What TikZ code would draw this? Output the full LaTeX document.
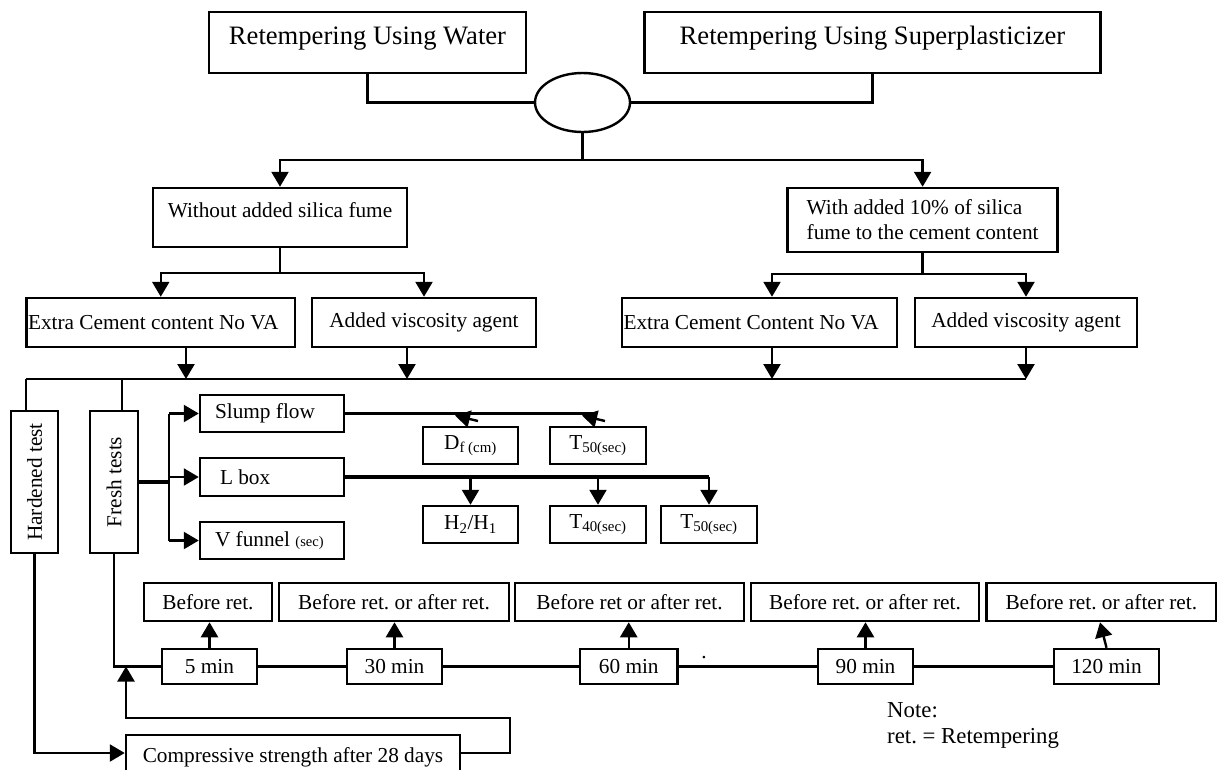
\documentclass[tikz,border=0pt]{standalone}
\usepackage{fontspec}
\setmainfont{Liberation Serif}
\usetikzlibrary{arrows.meta,shapes.geometric}
\newcommand{\fbig}{\fontsize{26.6pt}{30pt}\selectfont}
\newcommand{\fmain}{\fontsize{21.3pt}{25pt}\selectfont}
\newcommand{\fnote}{\fontsize{22.8pt}{26pt}\selectfont}
\newcommand{\fsmall}{\fontsize{14.5pt}{16pt}\selectfont}
\frenchspacing
\tikzset{
  box/.style={draw, line width=2.5pt, inner sep=0pt, font=\fmain, align=center},
  conn/.style={line width=2.4pt},
  thickconn/.style={line width=3.4pt},
  arr/.style={line width=2.4pt, -{Triangle[length=15pt,width=17pt]}},
  bigbox/.style={box, font=\fbig, text height=18pt, text depth=14pt},
}
\begin{document}
\begin{tikzpicture}[x=1pt,y=-1pt]
\useasboundingbox (0,0) rectangle (1223,769);
% top
\node[bigbox, minimum width=317pt, minimum height=61pt] (water) at (367.5,42.5) {Retempering Using Water};
\node[bigbox, minimum width=456pt, minimum height=61pt] (sp) at (872.5,42.5) {Retempering Using Superplasticizer};
\node[draw, ellipse, line width=2.4pt, minimum width=95pt, minimum height=59pt, inner sep=0pt] (ell) at (582.5,102.5) {};
\draw[conn] (water.south) |- (ell.west);
\draw[conn] (sp.south) |- (ell.east);
% second level
\node[box, minimum width=254pt, minimum height=59pt] (without) at (280,217.5) {Without added silica fume\\[-10pt]\mbox{}};
\node[box, minimum width=270pt, minimum height=64pt, align=left] (with) at (922.6,220) {With added 10\% of silica\\fume to the cement content};
\coordinate (j1) at (582.5,160);
\draw[conn] (ell.south) -- (j1);
\draw[arr] (j1) -| (without.north);
\draw[arr] (j1) -| (with.north);
% third level
\node[box, minimum height=49pt, inner xsep=1.5pt] (extra1) at (160.75,322.5) {\makebox[265.5pt][l]{Extra Cement content No VA}};
\node[box, minimum width=224pt, minimum height=49pt] (added1) at (424,322.5) {Added viscosity agent};
\node[box, minimum height=49pt, inner xsep=1.5pt] (extra2) at (759.5,322.5) {\makebox[272pt][l]{Extra Cement Content No VA}};
\node[box, minimum width=222pt, minimum height=49pt] (added2) at (1026,322.5) {Added viscosity agent};
\coordinate (j2) at (280,273);
\coordinate (j3) at (922.6,274);
\draw[conn] (without.south) -- (j2);
\draw[arr] (j2) -| (extra1.north);
\draw[arr] (j2) -| (added1.north);
\draw[conn] (with.south) -- (j3);
\draw[arr] (j3) -| (772,0 |- extra2.north);
\draw[arr] (j3) -| (added2.north);
% collector line
\coordinate (cl) at (26,379);
\coordinate (cr) at (1026,379);
\draw[arr] (186,0 |- extra1.south) -- (186,379);
\draw[arr] (407,0 |- added1.south) -- (407,379);
\draw[arr] (772,0 |- extra2.south) -- (772,379);
\draw[arr] (added2.south) -- (cr);
\draw[conn] (cl) -- (cr);
% tests
\node[box, rotate=90, minimum width=142pt, minimum height=47pt] (hard) at (34.5,482) {Hardened test};
\node[box, rotate=90, minimum width=142pt, minimum height=48pt] (fresh) at (114,482) {Fresh tests};
\draw[conn] (cl) -- (26,0 |- hard.east);
\draw[conn] (122,379) -- (122,0 |- fresh.east);
\node[box, minimum height=37pt, inner xsep=15pt] (slump) at (272,413.5) {\makebox[114pt][l]{Slump flow}};
\node[box, minimum height=38pt, inner xsep=20pt] (lbox) at (272,477) {\makebox[104pt][l]{L box}};
\node[box, minimum height=37pt, inner xsep=15pt] (vfun) at (272,540.5) {\makebox[114pt][l]{V funnel {\fsmall (sec)}}};
\coordinate (fj) at (169,482);
\draw[thickconn] (fresh.south) -- (fj);
\draw[conn] (169,0 |- slump.west) -- (169,0 |- vfun.west);
\draw[arr] (169,0 |- slump.west) -- (slump.west);
\draw[arr] (169,0 |- lbox.west) -- (lbox.west);
\draw[arr] (169,0 |- vfun.west) -- (vfun.west);
% slump flow results
\node[box, minimum width=95pt, minimum height=37pt] (df) at (470.5,445.5) {D\textsubscript{f (cm)}};
\node[box, minimum width=96pt, minimum height=37pt] (t50a) at (598,445.5) {T\textsubscript{50(sec)}};
\draw[thickconn] (slump.east) -- (597,0 |- slump.east);
\draw[arr] (478,421) -- (455,415.5);
\draw[arr] (605,421) -- (582,415.5);
% L box results
\node[box, minimum width=95pt, minimum height=37pt] (h2h1) at (470.5,524.5) {H\textsubscript{2}/H\textsubscript{1}};
\node[box, minimum width=96pt, minimum height=37pt] (t40) at (598,524.5) {T\textsubscript{40(sec)}};
\node[box, minimum width=96pt, minimum height=37pt] (t50b) at (709,524.5) {T\textsubscript{50(sec)}};
\draw[thickconn] (lbox.east) -- (t50b.north |- lbox.east);
\draw[arr] (h2h1.north |- lbox.east) -- (h2h1.north);
\draw[arr] (t40.north |- lbox.east) -- (t40.north);
\draw[arr] (t50b.north |- lbox.east) -- (t50b.north);
% timeline
\node[box, minimum width=128pt, minimum height=38pt] (b1) at (208,602) {Before ret.};
\node[box, minimum width=230pt, minimum height=38pt] (b2) at (394,602) {Before ret. or after ret.};
\node[box, minimum width=229pt, minimum height=38pt] (b3) at (629.5,602) {Before ret or after ret.};
\node[box, minimum width=228pt, minimum height=38pt] (b4) at (865,602) {Before ret. or after ret.};
\node[box, minimum width=229.4pt, minimum height=38pt] (b5) at (1101.3,602) {Before ret. or after ret.};
\node[box, minimum width=95pt, minimum height=35pt] (m5) at (209.5,666.5) {5 min};
\node[box, minimum width=95pt, minimum height=35pt] (m30) at (394.5,666.5) {30 min};
\node[box, minimum width=97.5pt, minimum height=35pt] (m60) at (628.75,666.5) {60 min};
\node[box, minimum width=95pt, minimum height=35pt] (m90) at (865.5,666.5) {90 min};
\node[box, minimum width=105pt, minimum height=35pt] (m120) at (1106.5,666.5) {120 min};
\draw[conn] (m5.east) -- (m30.west);
\draw[conn] (m30.east) -- (m60.west);
\draw[conn] (m60.east) -- (m90.west);
\draw[conn] (m90.east) -- (m120.west);
\node[font=\fmain, inner sep=0pt] (dot) at (704,658) {.};
\draw[arr] (m5.north) -- (m5.north |- b1.south);
\draw[arr] (m30.north) -- (m30.north |- b2.south);
\draw[arr] (m60.north) -- (m60.north |- b3.south);
\draw[arr] (m90.north) -- (m90.north |- b4.south);
\draw[arr] (m120.north) -- (1100,0 |- b5.south);
\draw[conn] (fresh.west) |- (m5.west);
% hardened
\node[box, minimum width=334pt, minimum height=44pt] (comp) at (293,757) {Compressive strength after 28 days};
\draw[arr] (hard.west) |- ([yshift=4pt]comp.west);
\draw[arr] ([yshift=4pt]comp.east) -- ++(49,0) |- (126,718) -- (126,0 |- m5.west);
% note
\node[font=\fnote, align=left, anchor=west, inner sep=0pt] (note) at (887,725) {Note:\\ret. = Retempering};
\end{tikzpicture}
\end{document}
